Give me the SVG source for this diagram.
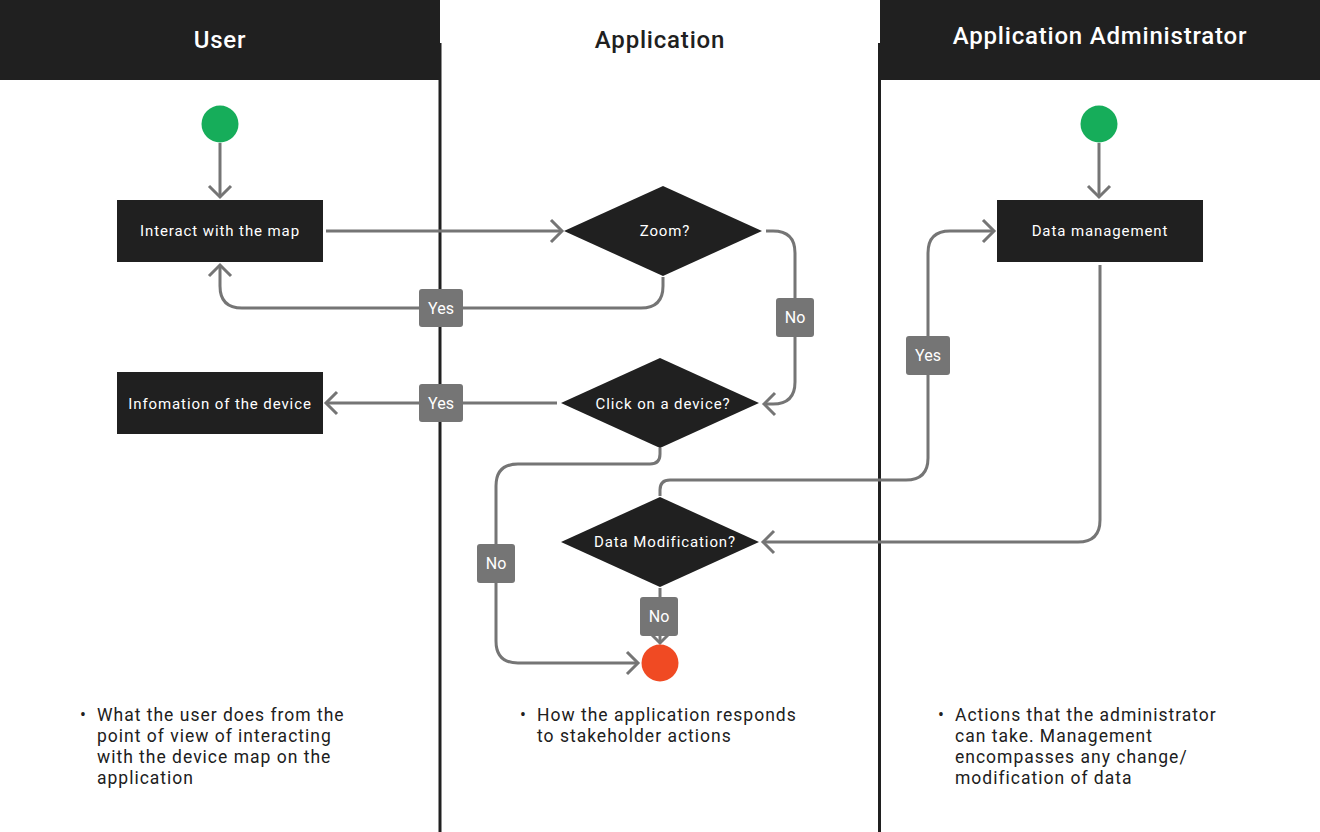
<svg xmlns="http://www.w3.org/2000/svg" width="1320" height="832" viewBox="0 0 1320 832">
<defs>
<style>
.hdr{font-family:Roboto,"Liberation Sans",sans-serif;font-size:24px;font-weight:500;letter-spacing:0.8px;text-anchor:middle}
.node{fill:#202020}
.ntxt{font-family:Roboto,"Liberation Sans",sans-serif;font-size:15px;font-weight:400;fill:#ffffff;text-anchor:middle;letter-spacing:0.9px}
.lbl{fill:#757575}
.ltxt{font-family:Roboto,"Liberation Sans",sans-serif;font-size:16px;fill:#ffffff;text-anchor:middle}
.conn{fill:none;stroke:#757575;stroke-width:3;stroke-linejoin:round}
.arr{marker-end:url(#chev)}
.lane{stroke:#202020;stroke-width:3}
.note{font-family:Roboto,"Liberation Sans",sans-serif;font-size:17.5px;fill:#202020;letter-spacing:1px}
</style>
<marker id="chev" markerUnits="userSpaceOnUse" markerWidth="30" markerHeight="30" viewBox="-15 -15 30 30" refX="0" refY="0" orient="auto">
<path d="M-11,-11 L0,0 L-11,11" fill="none" stroke="#757575" stroke-width="3"/>
</marker>
</defs>
<rect width="1320" height="832" fill="#ffffff"/>
<g id="lanes">
<rect x="0" y="0" width="440" height="80" fill="#202020"/>
<rect x="880" y="0" width="440" height="80" fill="#202020"/>
<line class="lane" x1="440" y1="43" x2="440" y2="832"/>
<line class="lane" x1="879.5" y1="43" x2="879.5" y2="832"/>
<text class="hdr" x="220" y="48" fill="#ffffff">User</text>
<text class="hdr" x="660" y="48" fill="#202020">Application</text>
<text class="hdr" x="1100" y="44" fill="#ffffff">Application Administrator</text>
</g>
<g id="connectors">
<path class="conn arr" d="M220,143 L220,197"/>
<path class="conn arr" d="M1099,143 L1099,197"/>
<path class="conn arr" d="M326,231 L562,231"/>
<path class="conn arr" d="M663,277 L663,286 Q663,308 641,308 L242,308 Q220,308 220,286 L220,265"/>
<path class="conn arr" d="M766,231 L773,231 Q795,231 795,253 L795,382 Q795,404 773,404 L764,404"/>
<path class="conn arr" d="M557,403 L326,403"/>
<path class="conn arr" d="M660,448 L660,454 Q660,464 650,464 L518,464 Q496,464 496,486 L496,641 Q496,663 518,663 L638,663"/>
<path class="conn arr" d="M660,496 L660,490 Q660,480 670,480 L906,480 Q928,480 928,458 L928,253 Q928,231 950,231 L994,231"/>
<path class="conn arr" d="M1100,265 L1100,520 Q1100,542 1078,542 L763,542"/>
<path class="conn arr" d="M660,588 L660,643"/>
</g>
<g id="start-user"><circle cx="220" cy="124" r="18.5" fill="#16ad5a"/></g>
<g id="start-admin"><circle cx="1099" cy="124" r="18.5" fill="#16ad5a"/></g>
<g id="end"><circle cx="660" cy="663" r="18.5" fill="#f04a23"/></g>
<g id="interact"><rect class="node" x="117" y="200" width="206" height="62"/><text class="ntxt" x="220" y="236">Interact with the map</text></g>
<g id="info"><rect class="node" x="117" y="372" width="206" height="62"/><text class="ntxt" x="220" y="408.5">Infomation of the device</text></g>
<g id="datamgmt"><rect class="node" x="997" y="200" width="206" height="62"/><text class="ntxt" x="1100" y="236">Data management</text></g>
<g id="zoom"><polygon class="node" points="564,231 663,186 762,231 663,276"/><text class="ntxt" x="665" y="236">Zoom?</text></g>
<g id="click"><polygon class="node" points="561,403 660,358 759,403 660,448"/><text class="ntxt" x="663" y="409">Click on a device?</text></g>
<g id="datamod"><polygon class="node" points="561,542 660,497 759,542 660,587"/><text class="ntxt" x="665" y="547">Data Modification?</text></g>
<g id="labels">
<rect class="lbl" x="419" y="289" width="44" height="38" rx="3"/><text class="ltxt" x="441" y="314">Yes</text>
<rect class="lbl" x="419" y="384" width="44" height="38" rx="3"/><text class="ltxt" x="441" y="409">Yes</text>
<rect class="lbl" x="776" y="298" width="38" height="39" rx="3"/><text class="ltxt" x="795" y="323">No</text>
<rect class="lbl" x="906" y="336" width="44" height="39" rx="3"/><text class="ltxt" x="928" y="361">Yes</text>
<rect class="lbl" x="477" y="544" width="38" height="39" rx="3"/><text class="ltxt" x="496" y="569">No</text>
<rect class="lbl" x="640" y="597" width="38" height="39" rx="3"/><text class="ltxt" x="659" y="622">No</text>
</g>
<g id="notes">
<text class="note"><tspan x="80" y="721">•</tspan><tspan x="97" y="721">What the user does from the</tspan><tspan x="97" y="742">point of view of interacting</tspan><tspan x="97" y="763">with the device map on the</tspan><tspan x="97" y="784">application</tspan></text>
<text class="note"><tspan x="520" y="721">•</tspan><tspan x="537" y="721">How the application responds</tspan><tspan x="537" y="742">to stakeholder actions</tspan></text>
<text class="note"><tspan x="938" y="721">•</tspan><tspan x="955" y="721">Actions that the administrator</tspan><tspan x="955" y="742">can take. Management</tspan><tspan x="955" y="763">encompasses any change/</tspan><tspan x="955" y="784">modification of data</tspan></text>
</g>
</svg>
